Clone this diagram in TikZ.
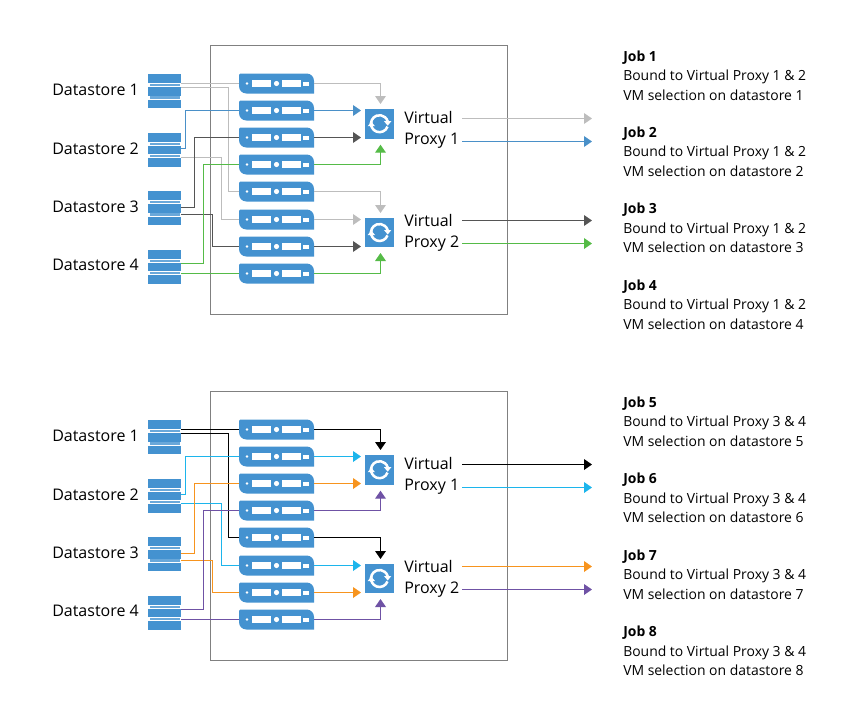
\documentclass[tikz,border=0pt]{standalone}
\usepackage{fontspec}
\setmainfont{Open Sans}
\usetikzlibrary{positioning,arrows.meta}
\definecolor{vmblue}{HTML}{4492D0}
\definecolor{wiregray}{HTML}{BDBDBD}
\definecolor{wireblue}{HTML}{4A90C8}
\definecolor{wiredark}{HTML}{555555}
\definecolor{wiregreen}{HTML}{55BB47}
\definecolor{wirecyan}{HTML}{1CB5EC}
\definecolor{wireorange}{HTML}{F7941E}
\definecolor{wirepurple}{HTML}{6F52A5}
\tikzset{
    frame/.style={draw=black!50,line width=1pt,fill=none},
    wire/.style={line width=1pt},
    tip/.style={wire,-{Triangle[length=6pt,width=8pt]}},
    label/.style={font=\fontsize{12pt}{15.75pt}\selectfont,anchor=west,inner sep=0pt},
    jobtext/.style={font=\fontsize{10.45pt}{14.25pt}\selectfont,anchor=west,inner sep=0pt,text height=10pt,text depth=4.25pt},
    stack/.pic={
        \fill[vmblue!80] (1.5,10) rectangle (31.5,12.4);
        \fill[vmblue!80] (1.5,22.4) rectangle (31.5,24.6);
        \fill[vmblue] (0,0) rectangle (33,9);
        \fill[vmblue] (0,13.4) rectangle (33,21.7);
        \fill[vmblue] (0,25.7) rectangle (33,34);
        \node[inner sep=0pt,minimum width=24.75pt,minimum height=25.5pt] (-box) at (16.5,17) {};
    },
    server/.pic={
        \fill[vmblue,rounded corners=1pt] (-37.5,-10) -- (30,-10) [rounded corners=5.5pt] -- (37.5,-10) [rounded corners=0pt] -- (37.5,10) -- (-30,10) [rounded corners=5.5pt] -- (-37.5,10) [rounded corners=1pt] -- cycle;
        \fill[white] (-29.5,0) circle (1.4);
        \fill[white] (-25,-3.7) rectangle (-6,3.7);
        \fill[white] (0,0) circle (2.6);
        \fill[white] (5,-3.7) rectangle (24,3.7);
        \fill[white] (26.5,-2) rectangle (32,2);
        \node[inner sep=0pt,minimum width=56.25pt,minimum height=15pt] (-box) at (0,0) {};
    },
    proxy/.pic={
        \node[fill=vmblue,inner sep=0pt,minimum size=22.2pt] (-box) at (0,0) {};
        \draw[white,line width=1.9pt] (-8,2.9) arc[start angle=160,end angle=345,radius=8.5];
        \draw[white,line width=1.9pt] (8,2.9) arc[start angle=20,end angle=195,radius=8.5];
        \fill[white] (4.5,-2.5) -- (11.8,-2.5) -- (8.2,2) -- cycle;
        \fill[white] (-4.5,2.5) -- (-11.8,2.5) -- (-8.2,-2) -- cycle;
    },
}
\begin{document}
\begin{tikzpicture}[x=0.75pt,y=-0.75pt]
    \useasboundingbox (0,0) rectangle (852,700);
    \foreach \p/\ca/\cb/\cc/\cd/\ce/\dy in {a/wiregray/wireblue/wiredark/wiregreen/wiregray/0,
                                            b/black/wirecyan/wireorange/wirepurple/wirecyan/346} {
    \begin{scope}[shift={(0,\dy)}]
    \node[frame,inner sep=0pt,minimum width=222.75pt,minimum height=201.75pt] (frame\p) at (359,180) {};

    % datastores
    \pic (\p d1) at (148,74) {stack};
    \pic (\p d2) at (148,132.5) {stack};
    \pic (\p d3) at (148,191) {stack};
    \pic (\p d4) at (148,249.5) {stack};
    \node[label] (\p l1) at (52,90) {Datastore 1};
    \node[label] (\p l2) at (52,148.5) {Datastore 2};
    \node[label] (\p l3) at (52,206.5) {Datastore 3};
    \node[label] (\p l4) at (52,265) {Datastore 4};

    % servers
    \pic (\p s1) at (276.5,83.5) {server};
    \pic (\p s2) at (276.5,110.5) {server};
    \pic (\p s3) at (276.5,137.5) {server};
    \pic (\p s4) at (276.5,164.5) {server};
    \pic (\p s5) at (276.5,191.5) {server};
    \pic (\p s6) at (276.5,219.5) {server};
    \pic (\p s7) at (276.5,246.5) {server};
    \pic (\p s8) at (276.5,273.5) {server};

    % proxies
    \pic (\p p1) at (379.5,123.7) {proxy};
    \pic (\p p2) at (379.5,232.5) {proxy};
    \node[label,align=left,anchor=north west] (\p v1) at (404,111.5) {Virtual\\Proxy 1};
    \node[label,align=left,anchor=north west] (\p v2) at (404,214.5) {Virtual\\Proxy 2};

    % free ends of the wires
    \coordinate (\p w1) at (181,83.5);
    \coordinate (\p w5) at (181,87.5);
    \coordinate (\p w2) at (181,148.5);
    \coordinate (\p w6) at (181,157.5);
    \coordinate (\p w3) at (181,207.5);
    \coordinate (\p w7) at (181,214.5);
    \coordinate (\p w4) at (181,263.5);
    \coordinate (\p w8) at (181,273.5);
    \coordinate (\p t1) at (380.5,104);
    \coordinate (\p t2) at (361,110.5);
    \coordinate (\p t3) at (361,137.5);
    \coordinate (\p t4) at (380.5,144.7);
    \coordinate (\p t5) at (380.5,213);
    \coordinate (\p t6) at (361,219.5);
    \coordinate (\p t7) at (361,246.5);
    \coordinate (\p t8) at (380.5,253);

    % datastore to server
    \draw[wire,\ca] (\p w1) -- (\p s1-box);
    \draw[wire,\ca] (\p w5) -| (228.5,191.5) -- (\p s5-box);
    \draw[wire,\cb] (\p w2) -| (185.5,110.5) -- (\p s2-box);
    \draw[wire,\ce] (\p w6) -| (221.5,219.5) -- (\p s6-box);
    \draw[wire,\cc] (\p w3) -| (194.5,137.5) -- (\p s3-box);
    \draw[wire,\cc] (\p w7) -| (212.5,246.5) -- (\p s7-box);
    \draw[wire,\cd] (\p w4) -| (203.5,164.5) -- (\p s4-box);
    \draw[wire,\cd] (\p w8) -- (\p s8-box);

    % server to proxy
    \draw[tip,\ca] (\p s1-box.east) -| (\p t1);
    \draw[tip,\cb] (\p s2-box.east) -- (\p t2);
    \draw[tip,\cc] (\p s3-box.east) -- (\p t3);
    \draw[tip,\cd] (\p s4-box.east) -| (\p t4);
    \draw[tip,\ca] (\p s5-box.east) -| (\p t5);
    \draw[tip,\ce] (\p s6-box.east) -- (\p t6);
    \draw[tip,\cc] (\p s7-box.east) -- (\p t7);
    \draw[tip,\cd] (\p s8-box.east) -| (\p t8);

    % proxy to job
    \coordinate (\p o1) at (462,118.5);
    \coordinate (\p e1) at (592,118.5);
    \coordinate (\p o2) at (462,141.5);
    \coordinate (\p e2) at (592,141.5);
    \coordinate (\p o3) at (462,220.5);
    \coordinate (\p e3) at (592,220.5);
    \coordinate (\p o4) at (462,243.5);
    \coordinate (\p e4) at (592,243.5);
    \draw[tip,\ca] (\p o1) -- (\p e1);
    \draw[tip,\cb] (\p o2) -- (\p e2);
    \draw[tip,\cc] (\p o3) -- (\p e3);
    \draw[tip,\cd] (\p o4) -- (\p e4);
    \end{scope}
    }

    % job texts
    \foreach \n/\y/\prx in {1/57.5/1 \& 2,2/133.5/1 \& 2,3/210/1 \& 2,4/286.5/1 \& 2,
                            5/403.5/3 \& 4,6/480/3 \& 4,7/556.5/3 \& 4,8/633/3 \& 4} {
        \node[jobtext] (job\n) at (623,\y) {\bfseries Job \n};
        \node[jobtext,below=0pt of job\n.south west,anchor=north west] (bound\n) {Bound to Virtual Proxy \prx};
        \node[jobtext,below=0pt of bound\n.south west,anchor=north west] (sel\n) {VM selection on datastore \n};
    }
\end{tikzpicture}
\end{document}
